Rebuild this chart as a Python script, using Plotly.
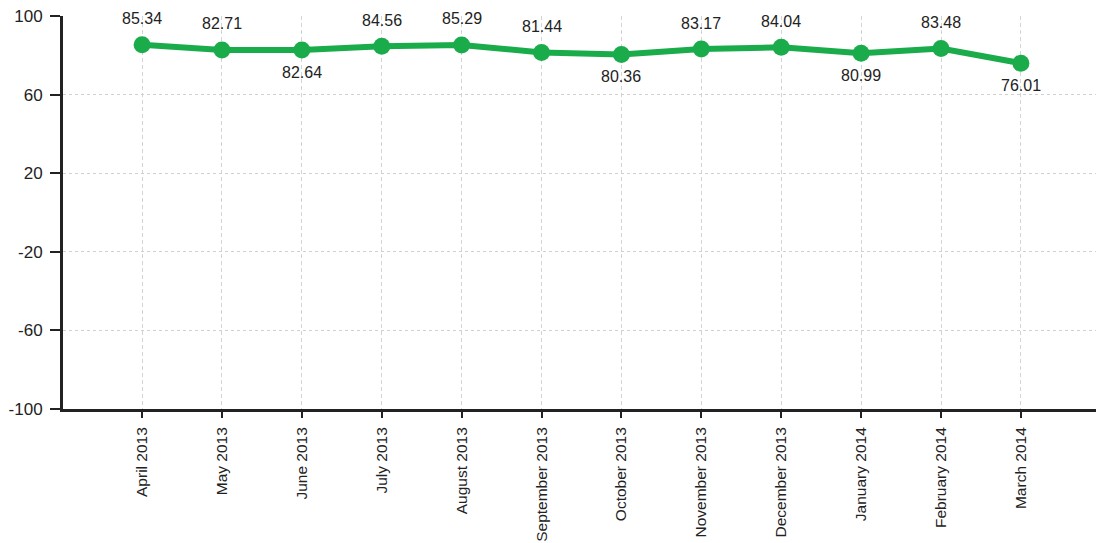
import plotly.graph_objects as go

months = ["April 2013", "May 2013", "June 2013", "July 2013", "August 2013",
          "September 2013", "October 2013", "November 2013", "December 2013",
          "January 2014", "February 2014", "March 2014"]
values = [85.34, 82.71, 82.64, 84.56, 85.29, 81.44, 80.36, 83.17, 84.04,
          80.99, 83.48, 76.01]
label_above = [True, True, False, True, True, True, False, True, True,
               False, True, False]
y_ticks = [-100, -60, -20, 20, 60, 100]

font_family = "Liberation Sans, Arial, sans-serif"
green = "#1aac4b"

xs = list(range(len(months)))

fig = go.Figure()
fig.add_trace(go.Scatter(
    x=xs,
    y=values,
    mode="lines+markers",
    line=dict(color=green, width=6),
    marker=dict(color=green, size=17),
    showlegend=False,
    hoverinfo="x+y",
))

# value labels, alternating above / below the points
for x, v, above in zip(xs, values, label_above):
    fig.add_annotation(
        x=x, y=v, text=f"{v:.2f}", showarrow=False,
        yshift=26 if above else -22, yanchor="middle",
        font=dict(family=font_family, size=16, color="#222222"),
    )

fig.update_layout(
    width=1096, height=543,
    margin=dict(l=63, r=0, t=16, b=134),
    paper_bgcolor="white",
    plot_bgcolor="white",
    font=dict(family=font_family, size=15, color="#222222"),
)
fig.update_xaxes(
    range=[-0.99, 11.94],
    tickmode="array",
    tickvals=xs,
    ticktext=months,
    tickangle=-90,
    ticks="outside", ticklen=6, tickwidth=2, tickcolor="#222222",
    ticklabelstandoff=3,
    showline=True, linecolor="#222222", linewidth=3,
    showgrid=True, gridcolor="#d4d4d4", gridwidth=1, griddash="4px,3px",
    zeroline=False,
    tickfont=dict(size=15.5),
)
fig.update_yaxes(
    range=[-100, 100],
    tickmode="array",
    tickvals=y_ticks,
    ticktext=[str(t) for t in y_ticks],
    ticks="outside", ticklen=10, tickwidth=2, tickcolor="#222222",
    ticklabelstandoff=4,
    showline=True, linecolor="#222222", linewidth=3,
    showgrid=True, gridcolor="#d0d0d0", gridwidth=1, griddash="dot",
    zeroline=False,
    tickfont=dict(size=17),
)

fig.write_html("out.html")
